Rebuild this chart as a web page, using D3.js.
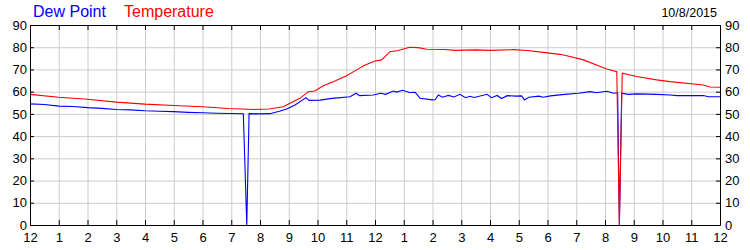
<!DOCTYPE html>
<html>
<head>
<meta charset="utf-8">
<script src="https://cdn.jsdelivr.net/npm/d3@7"></script>
<style>
  body { margin: 0; background: #fff; }
  svg { display: block; font-family: "Liberation Sans", Arial, sans-serif; }
</style>
</head>
<body>
<div id="chart"></div>
<script>
// Hours since midnight (0..24) and readings
const dewHours = [0, 0.5, 1, 1.5, 2, 2.5, 3, 3.5, 4, 4.5, 5, 5.5, 6, 6.5, 7, 7.42, 7.54, 7.62, 8, 8.35, 8.7, 8.93,
  9.22, 9.6, 9.71, 10.09, 10.5, 11.13, 11.34, 11.46, 11.94, 12.2, 12.37, 12.64, 12.75, 12.96, 13.2, 13.4, 13.57,
  14.0, 14.1, 14.2, 14.35, 14.55, 14.75, 14.95, 15.15, 15.3, 15.45, 15.9, 16.05, 16.25, 16.4, 16.6, 16.9, 17.1,
  17.2, 17.35, 17.7, 17.85, 18.1, 18.6, 19.08, 19.48, 19.7, 20.06, 20.3, 20.44, 20.5, 20.58, 20.8, 21.1, 21.8,
  22.26, 22.5, 23.42, 23.6, 24];
const dewValues = [54.5, 54.2, 53.5, 53.3, 52.8, 52.5, 52.0, 51.8, 51.4, 51.2, 51.0, 50.7, 50.5, 50.3, 50.2, 50.1, 0, 50.1, 50.0, 50.1, 51.3, 52.2,
  54.0, 57.3, 56.1, 56.2, 57.0, 57.7, 59.3, 58.2, 58.5, 59.3, 58.8, 60.3, 59.8, 60.6, 59.6, 59.7, 57.0,
  56.3, 56.5, 58.5, 57.5, 58.3, 57.6, 58.8, 57.3, 57.9, 57.4, 58.8, 57.3, 58.3, 56.9, 58.2, 58.0, 58.1,
  56.3, 57.5, 58.0, 57.5, 58.1, 58.8, 59.3, 60.0, 59.5, 60.2, 59.3, 59.5, 0, 59.3, 58.8, 59.0, 58.8,
  58.5, 58.2, 58.3, 57.7, 57.7];

const tempHours = [0, 1, 2, 3, 4, 5, 6, 6.9, 7.8, 8.3, 8.81, 9.04, 9.39, 9.68, 9.91, 10.2, 10.55, 11.01, 11.36, 11.6,
  12.0, 12.23, 12.52, 12.81, 13.2, 13.5, 13.8, 14.4, 14.8, 15.5, 16.0, 16.8, 17.3, 17.86, 18.43, 18.78, 19.25,
  20.06, 20.41, 20.5, 20.6, 21.1, 21.8, 22.26, 23.42, 23.65, 24];
const tempValues = [58.8, 57.5, 56.6, 55.3, 54.4, 53.8, 53.2, 52.4, 52.0, 52.2, 53.2, 54.8, 57.0, 60.0, 60.3, 62.7, 64.5, 67.2, 69.8, 71.7,
  73.8, 74.3, 78.0, 78.5, 80.0, 79.8, 79.1, 79.0, 78.6, 78.8, 78.6, 78.9, 78.5, 77.7, 76.8, 75.8, 74.3,
  70.2, 69.0, 0, 68.3, 66.8, 65.3, 64.5, 63.0, 62.1, 62.0];

const hourTicks = d3.range(0, 25);
const hourLabels = ["12", "1", "2", "3", "4", "5", "6", "7", "8", "9", "10", "11",
  "12", "1", "2", "3", "4", "5", "6", "7", "8", "9", "10", "11", "12"];
const valueTicks = [0, 10, 20, 30, 40, 50, 60, 70, 80, 90];
const dateLabel = "10/8/2015";

const width = 750, height = 250;
const margin = { top: 25, right: 30, bottom: 25, left: 30 };
const innerWidth = width - margin.left - margin.right;
const innerHeight = height - margin.top - margin.bottom;

const svg = d3.select("#chart").append("svg")
    .attr("width", width)
    .attr("height", height);

const g = svg.append("g").attr("transform", `translate(${margin.left},${margin.top})`);

const x = d3.scaleLinear().domain([0, 24]).range([0, innerWidth]);
const y = d3.scaleLinear().domain([0, 90]).range([innerHeight, 0]);

// Grid (lines only, no empty labels left behind)
g.append("g")
    .attr("class", "grid")
    .call(d3.axisBottom(x).tickValues(hourTicks).tickSize(innerHeight).tickFormat(""))
    .call(s => s.select(".domain").remove())
    .call(s => s.selectAll("text").remove())
    .selectAll("line").attr("stroke", "#cccccc");
g.append("g")
    .attr("class", "grid")
    .call(d3.axisLeft(y).tickValues(valueTicks).tickSize(-innerWidth).tickFormat(""))
    .call(s => s.select(".domain").remove())
    .call(s => s.selectAll("text").remove())
    .selectAll("line").attr("stroke", "#cccccc");

// Series
const line = d3.line().x(d => x(d[0])).y(d => y(d[1]));
g.append("path")
    .datum(dewHours.map((h, i) => [h, dewValues[i]]))
    .attr("fill", "none")
    .attr("stroke", "#0000ff")
    .attr("stroke-width", 1.1)
    .attr("d", line);
g.append("path")
    .datum(tempHours.map((h, i) => [h, tempValues[i]]))
    .attr("fill", "none")
    .attr("stroke", "#ff0000")
    .attr("stroke-width", 1.1)
    .attr("d", line);

// Axes, ticks pointing inward
function styleAxis(sel) {
    sel.attr("font-size", 13).attr("font-family", "Liberation Sans, Arial, sans-serif");
    sel.select(".domain").attr("stroke", "#000");
    sel.selectAll(".tick line").attr("stroke", "#000");
    sel.selectAll("text").attr("fill", "#000");
}
g.append("g")
    .attr("transform", `translate(0,${innerHeight})`)
    .call(d3.axisBottom(x).tickValues(hourTicks).tickSizeInner(-5).tickSizeOuter(0).tickPadding(8)
        .tickFormat((d, i) => hourLabels[i]))
    .call(styleAxis);
g.append("g")
    .call(d3.axisTop(x).tickValues(hourTicks).tickSizeInner(-5).tickSizeOuter(0).tickFormat(""))
    .call(s => s.selectAll("text").remove())
    .call(styleAxis);
g.append("g")
    .call(d3.axisLeft(y).tickValues(valueTicks).tickSizeInner(-4).tickSizeOuter(0).tickPadding(3))
    .call(styleAxis);
g.append("g")
    .attr("transform", `translate(${innerWidth},0)`)
    .call(d3.axisRight(y).tickValues(valueTicks).tickSizeInner(-4).tickSizeOuter(0).tickPadding(5))
    .call(styleAxis);

// Title / legend
svg.append("text")
    .attr("x", 33).attr("y", 17)
    .attr("font-size", "16px").attr("fill", "#0000ff")
    .text("Dew Point");
svg.append("text")
    .attr("x", 124).attr("y", 17)
    .attr("font-size", "16px").attr("fill", "#ff0000")
    .text("Temperature");
svg.append("text")
    .attr("x", 717).attr("y", 17)
    .attr("text-anchor", "end")
    .attr("font-size", "12.5px").attr("fill", "#000")
    .text(dateLabel);
</script>
</body>
</html>
